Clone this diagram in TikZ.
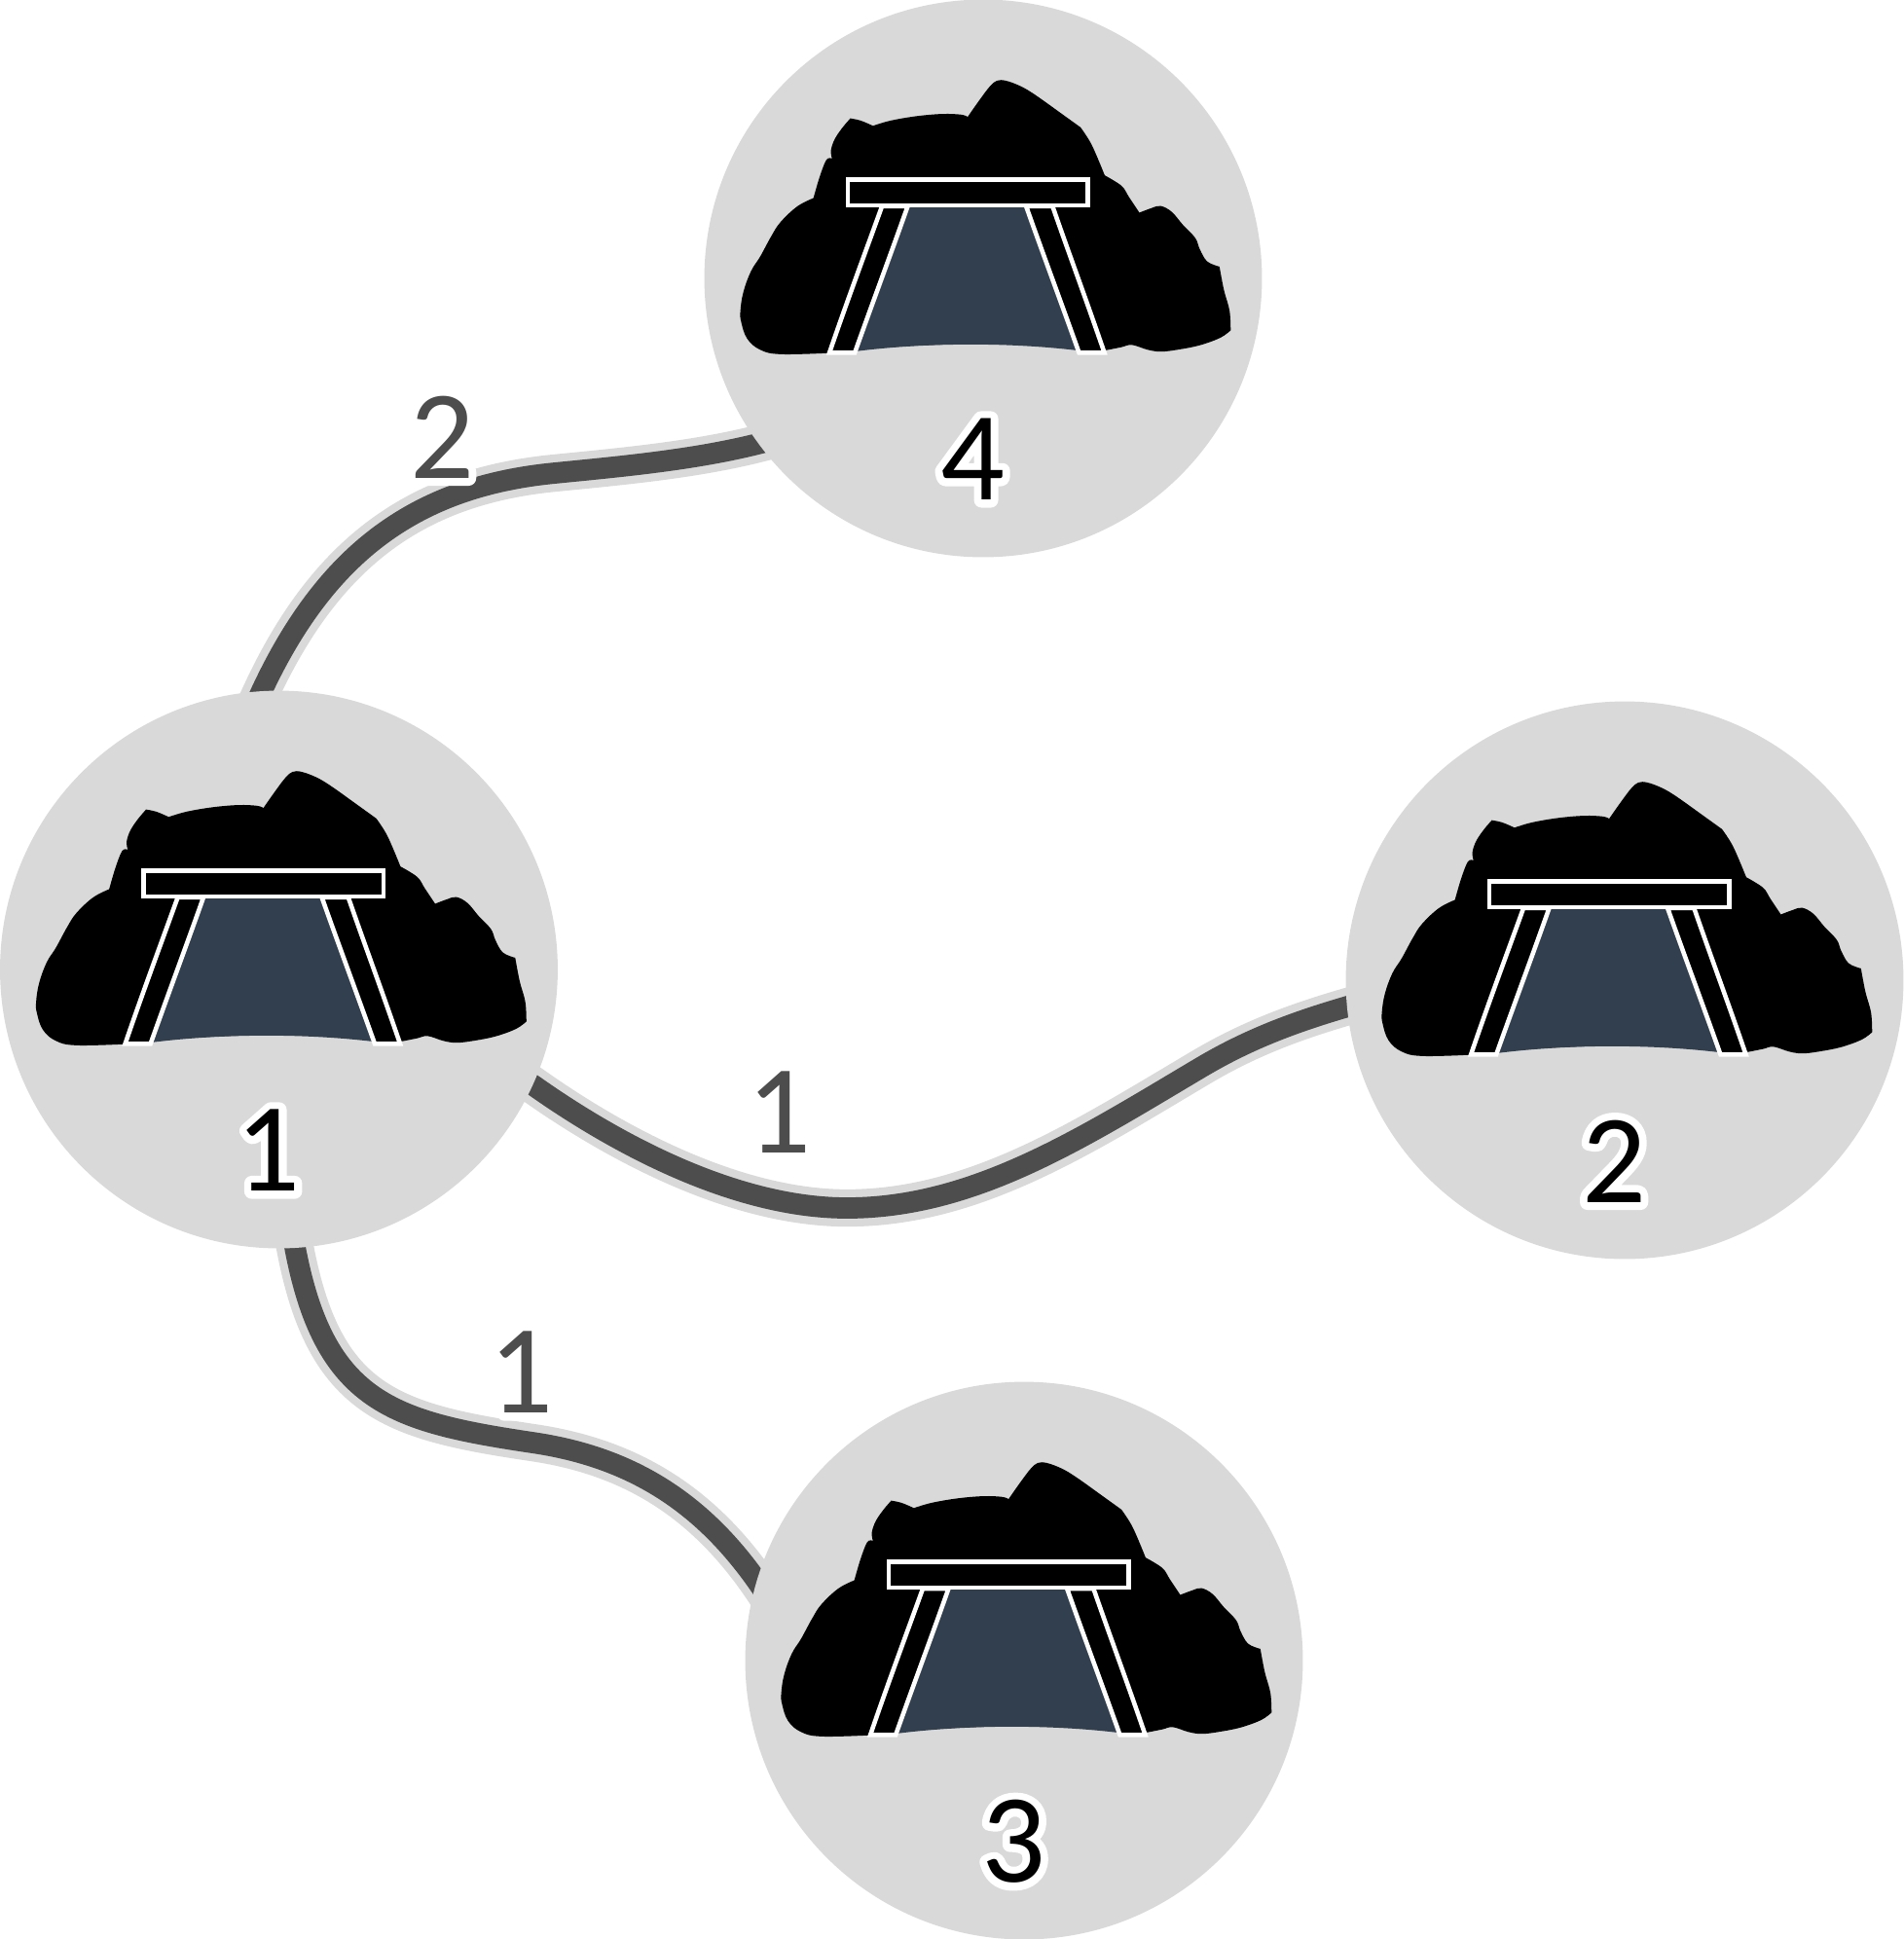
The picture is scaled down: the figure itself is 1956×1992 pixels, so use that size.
\documentclass[tikz,border=0pt]{standalone}
\usepackage{fontspec}
\setmainfont{Carlito}
\newfontfamily\halofont[FakeBold=12]{Carlito}
\definecolor{halo}{HTML}{D9D9D9}
\definecolor{roadcol}{HTML}{4D4D4D}
\definecolor{tunnel}{HTML}{323F4F}
\pgfdeclarelayer{bg}
\pgfsetlayers{bg,main}
\newcommand{\halotext}[2]{\pgfsetroundjoin\rlap{\halofont\color{white}#2}{\color{#1}#2}}
\tikzset{
  x=0.02cm,y=-0.02cm,
  hub/.style={circle,fill=halo,draw=none,inner sep=0pt,minimum size=11.46cm},
  numlabel/.style={inner sep=0pt,font=\fontsize{74}{80}\selectfont},
  roadcase/.style={draw=halo,line width=21.8pt,line cap=butt,line join=round},
  roadcore/.style={draw=roadcol,line width=12.4pt,line cap=butt,line join=round},
  cave/.pic={
    \begin{scope}[scale=0.3827,shift={(-748.6,-773.5)}]
      \fill[black] plot[smooth,tension=0.65] coordinates{(330,974)(205,977)(150,965)(115,935)(99,890)(97,860)(105,810)(125,755)(150,715)(180,660)(205,622)(250,580)(293,558)}
        -- plot[smooth,tension=0.6] coordinates{(293,558)(310,500)(328,455)(343,452)}
        -- plot[smooth,tension=0.6] coordinates{(343,452)(340,430)(350,400)(370,370)(392,344)}
        -- plot[smooth,tension=0.6] coordinates{(392,344)(420,350)(453,364)}
        -- plot[smooth,tension=0.6] coordinates{(453,364)(500,350)(570,338)(640,332)(690,334)(707,340)}
        -- plot[smooth,tension=0.6] coordinates{(707,340)(735,300)(765,260)(785,243)(810,243)(850,258)(890,282)(960,332)(1010,368)}
        -- plot[smooth,tension=0.6] coordinates{(1010,368)(1040,415)(1075,497)}
        -- plot[smooth,tension=0.6] coordinates{(1075,497)(1120,525)(1140,555)(1168,597)}
        -- plot[smooth,tension=0.6] coordinates{(1168,597)(1200,585)(1225,579)(1255,595)(1285,630)(1318,665)(1330,695)(1350,728)(1383,742)}
        -- plot[smooth,tension=0.6] coordinates{(1383,742)(1395,805)(1410,860)(1413,913)}
        -- plot[smooth,tension=0.6] coordinates{(1413,913)(1385,933)(1330,953)(1270,965)(1225,970)(1190,965)(1148,952)(1120,958)(1080,966)}
        .. controls (900,945) and (600,940) .. (330,974) -- cycle;
      \fill[tunnel] (548,578) -- (862,578) .. controls (900,700) and (950,830) .. (1003,967)
        .. controls (820,945) and (600,945) .. (408,969) .. controls (460,830) and (510,700) .. cycle;
      \draw[white,line width=2.6pt,fill=black] (336,973) .. controls (385,830) and (430,710) .. (477,580) -- (546,580) .. controls (500,710) and (455,830) .. (404,973) -- cycle;
      \draw[white,line width=2.6pt,fill=black] (1074,973) .. controls (1025,830) and (980,710) .. (935,580) -- (864,580) .. controls (910,710) and (955,830) .. (1006,973) -- cycle;
      \draw[white,line width=2.6pt,fill=black] (385,508) rectangle (1029,577);
    \end{scope}
  }
}
\begin{document}
\begin{tikzpicture}
\useasboundingbox (0,0) rectangle (1956,1992);
\node[hub] (n1) at (286.5,996) {};
\node[hub] (n2) at (1669,1007) {};
\node[hub] (n3) at (1052,1706) {};
\node[hub] (n4) at (1010,286) {};
\foreach \n/\t in {1/1,2/2,3/3,4/4}{
  \pic at (n\n) {cave};
  \node[numlabel] (t\n) at ([shift={(-11,186)}]n\n.center) {\halotext{black}{\t}};
}
\node[numlabel] (e14) at (454,449) {\halotext{roadcol}{2}};
\node[numlabel] (e12) at (800,1143) {\halotext{roadcol}{1}};
\node[numlabel] (e13) at (535,1410) {\halotext{roadcol}{1}};
\begin{pgfonlayer}{bg}
\foreach \sty in {roadcase,roadcore}{
  \draw[\sty] (n1.center) -- (262,725) .. controls (330,570) and (425,500) .. (570,486)
     .. controls (640,479) and (720,472) .. (790,453) -- (n4.center);
  \draw[\sty] (n1.center) -- (530,1103) -- (548,1115) .. controls (640,1180) and (760,1241) .. (870,1241)
     .. controls (1000,1241) and (1110,1170) .. (1233,1097)
     .. controls (1285,1066) and (1335,1048) .. (1395,1031) -- (n2.center);
  \draw[\sty] (n1.center) -- (301,1270) .. controls (330,1440) and (400,1460) .. (547,1482)
     .. controls (650,1497) and (725,1545) .. (785,1635) -- (805,1665) -- (n3.center);
}
\end{pgfonlayer}
\end{tikzpicture}
\end{document}
